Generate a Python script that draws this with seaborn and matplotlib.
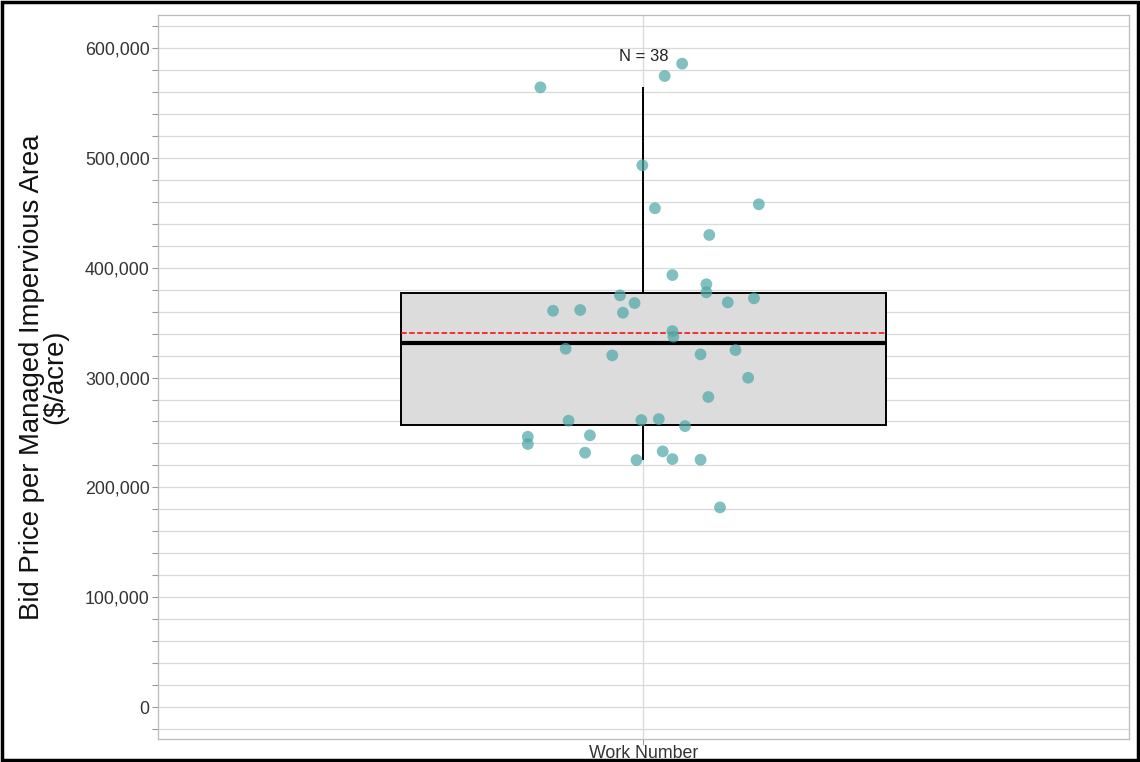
import numpy as np
import pandas as pd
import matplotlib
matplotlib.use("Agg")
import matplotlib.pyplot as plt
import matplotlib.ticker as mticker
from matplotlib.patches import Rectangle
import seaborn as sns

# ─────────────────────────────────────────────
# DATA — bid prices ($/acre)
# ─────────────────────────────────────────────
bid_price = [
    585700, 574500, 564200, 493200, 454100, 457700, 429800, 393300,
    384900, 377600, 374800, 367800, 368400, 372100, 360800, 361500,
    359000, 342300, 337200, 326200, 320200, 321100, 325000, 299800,
    282300, 260700, 261300, 262200, 255800, 246100, 239500, 247400,
    231600, 232800, 224900, 225800, 225200, 181800,
]
# horizontal jitter of each point (category units)
jitter = [
    0.040, 0.022, -0.106, -0.001, 0.012, 0.119, 0.068, 0.030,
    0.065, 0.065, -0.024, -0.009, 0.087, 0.114, -0.093, -0.065,
    -0.021, 0.030, 0.031, -0.080, -0.032, 0.059, 0.095, 0.108,
    0.067, -0.077, -0.002, 0.016, 0.043, -0.119, -0.119, -0.055,
    -0.060, 0.020, -0.007, 0.030, 0.059, 0.079,
]
category = "Work Number"
y_label = "Bid Price per Managed Impervious Area\n($/acre)"

df = pd.DataFrame({"price": bid_price, "offset": jitter})

# ─────────────────────────────────────────────
# PLOT
# ─────────────────────────────────────────────
sns.set_style("white")
plt.rcParams["font.family"] = ["Liberation Sans", "DejaVu Sans"]

fig = plt.figure(figsize=(11.4, 7.62), dpi=100)
ax = fig.add_axes([0.1386, 0.0302, 0.8514, 0.9501])

# box with whiskers at the 5th / 95th percentiles, dashed mean line
sns.boxplot(
    data=df, y="price", ax=ax, width=0.5, whis=(5, 95),
    showfliers=False, showcaps=False, color="#dcdcdc", saturation=1,
    linecolor="black", linewidth=1.4,
    medianprops=dict(color="black", linewidth=3),
    showmeans=True, meanline=True,
    meanprops=dict(color="red", linestyle="--", linewidth=1.1),
)

sns.scatterplot(
    data=df, x="offset", y="price", ax=ax, color="#4fa8a8", alpha=0.72,
    s=72, edgecolor="none", zorder=3,
)

ax.text(0, 592000, f"N = {len(bid_price)}", ha="center", va="center",
        fontsize=12, color="#222222")

ax.set_xlim(-0.5, 0.5)
ax.set_ylim(-29000, 630000)
ax.set_xticks([0])
ax.set_xticklabels([category])
ax.yaxis.set_major_locator(mticker.MultipleLocator(100000))
ax.yaxis.set_minor_locator(mticker.MultipleLocator(20000))
ax.yaxis.set_major_formatter(mticker.FuncFormatter(lambda v, p: f"{int(v):,}"))

ax.grid(True, which="major", color="#d9d9d9", linewidth=0.9)
ax.grid(True, which="minor", axis="y", color="#d9d9d9", linewidth=0.9)
ax.set_axisbelow(True)

ax.tick_params(axis="both", which="both", direction="out", color="#999999",
               labelsize=12.8, labelcolor="#333333", length=4, width=0.8,
               left=True, bottom=True, pad=2)
ax.tick_params(axis="x", pad=0.5)
for s in ax.spines.values():
    s.set_color("#bbbbbb")
    s.set_linewidth(0.9)

ax.set_xlabel("")
ax.set_ylabel(y_label, fontsize=19.8, color="#111111", labelpad=12,
              linespacing=0.85)

fig.patches.append(Rectangle((0.002, 0.003), 0.996, 0.994,
                             transform=fig.transFigure, fill=False,
                             edgecolor="black", linewidth=2.5))

plt.savefig("out.png", dpi=100)
